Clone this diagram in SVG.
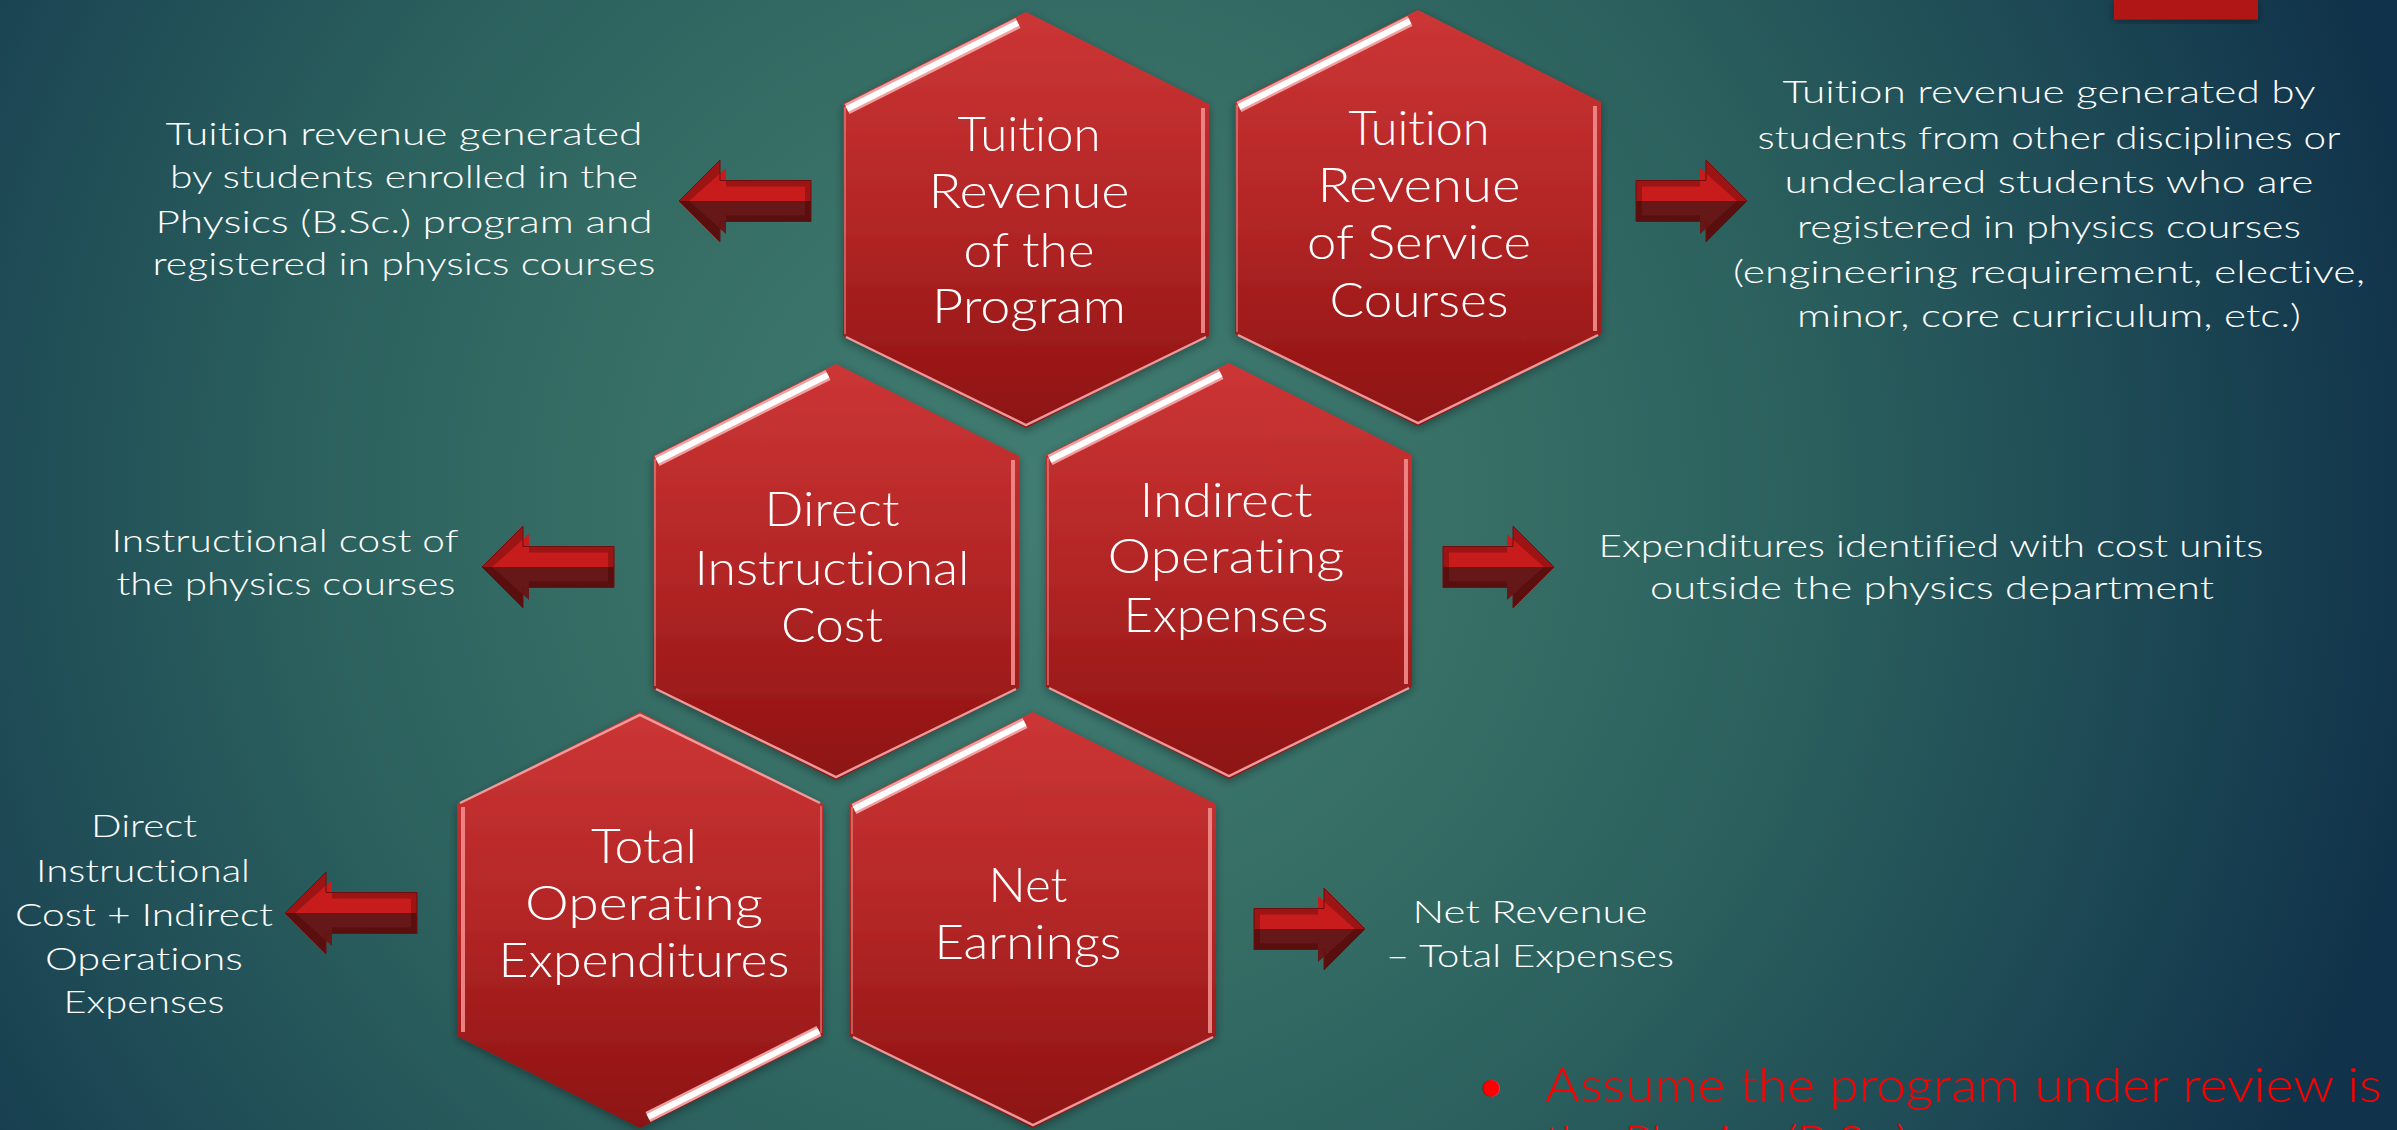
<svg xmlns="http://www.w3.org/2000/svg" xmlns:xlink="http://www.w3.org/1999/xlink" width="2397" height="1130" viewBox="0 0 2397 1130">
<defs>
<radialGradient id="bg" gradientUnits="userSpaceOnUse" cx="1050" cy="500" r="1400">
<stop offset="0" stop-color="#417d72"/>
<stop offset="0.3" stop-color="#376f66"/>
<stop offset="0.55" stop-color="#2a5f5d"/>
<stop offset="0.75" stop-color="#1f4c56"/>
<stop offset="1" stop-color="#10324a"/>
</radialGradient>
<linearGradient id="hexFill" x1="0" y1="0" x2="0" y2="1">
<stop offset="0" stop-color="#cc3535"/>
<stop offset="0.5" stop-color="#b32626"/>
<stop offset="1" stop-color="#8d1111"/>
</linearGradient>
<filter id="shadow" x="-20%" y="-20%" width="140%" height="140%">
<feDropShadow dx="0" dy="3" stdDeviation="5" flood-color="#000" flood-opacity="0.35"/>
</filter>
<polygon id="hexShape" points="0,-208 183,-116 183,116 0,208 -183,116 -183,-116"/>
<g id="bevel">
<line x1="-179" y1="-111" x2="-8" y2="-197" stroke="#f0a0a0" stroke-width="11"/>
<line x1="-179" y1="-111" x2="-8" y2="-197" stroke="#ffffff" stroke-width="6"/>
<line x1="177" y1="-112" x2="177" y2="113" stroke="#f38c8c" stroke-width="4" opacity="0.9"/>
<polyline points="-180,117 0,205 180,117" fill="none" stroke="#f4a6a6" stroke-width="2.5" opacity="0.9"/>
<line x1="-181" y1="-113" x2="-181" y2="114" stroke="#f4a6a6" stroke-width="2" opacity="0.45"/>
</g>
<g id="arrow111">
<polygon points="-111,-20.5 -41,-20.5 -41,-41 0,0 -111,0" fill="#9c1414"/>
<polygon points="-111,0 0,0 -41,41 -41,20.5 -111,20.5" fill="#5a0f0f"/>
<polygon points="-105,-14.5 -47,-14.5 -47,-33 -10,0 -105,0" fill="#c81b1b"/>
<polygon points="-105,0 -10,0 -47,33 -47,14.5 -105,14.5" fill="#661717"/>
<polygon points="-111,-20.5 -41,-20.5 -41,-41 0,0 -41,41 -41,20.5 -111,20.5" fill="none" stroke="#6e0e0e" stroke-width="1"/>
</g>
<g id="arrow132">
<polygon points="-132,-20.5 -41,-20.5 -41,-41 0,0 -132,0" fill="#9c1414"/>
<polygon points="-132,0 0,0 -41,41 -41,20.5 -132,20.5" fill="#5a0f0f"/>
<polygon points="-126,-14.5 -47,-14.5 -47,-33 -10,0 -126,0" fill="#c81b1b"/>
<polygon points="-126,0 -10,0 -47,33 -47,14.5 -126,14.5" fill="#661717"/>
<polygon points="-132,-20.5 -41,-20.5 -41,-41 0,0 -41,41 -41,20.5 -132,20.5" fill="none" stroke="#6e0e0e" stroke-width="1"/>
</g>
</defs>
<style>
text { font-variant-ligatures: none; font-feature-settings: "liga" 0, "clig" 0; }
.hex { fill: url(#hexFill); filter: url(#shadow); }
.ht { font-family: Lato, 'Open Sans', sans-serif; font-weight: 300; font-size: 47px; fill: #ffffff; text-anchor: middle; }
.side { font-family: Lato, 'Open Sans', sans-serif; font-weight: 300; font-size: 32px; fill: #ffffff; text-anchor: middle; }
.note { font-family: Lato, 'Open Sans', sans-serif; font-weight: 300; font-size: 47px; fill: #ff0000; }
.bullet { font-family: Lato, 'Open Sans', sans-serif; font-weight: 700; font-size: 38px; fill: #ff0000; text-anchor: middle; }
</style>
<rect x="0" y="0" width="2397" height="1130" fill="url(#bg)"/>
<rect x="2114" y="-2" width="144" height="21.5" fill="#b11616" filter="url(#shadow)"/>

<g id="node-tuition-program" transform="translate(1026,220)">
<use href="#hexShape" class="hex"/>
<use href="#bevel"/>
<text class="ht" x="3" y="-69" textLength="143" lengthAdjust="spacingAndGlyphs">Tuition</text>
<text class="ht" x="3" y="-12" textLength="201" lengthAdjust="spacingAndGlyphs">Revenue</text>
<text class="ht" x="3" y="47" textLength="131" lengthAdjust="spacingAndGlyphs">of the</text>
<text class="ht" x="3" y="103" textLength="194" lengthAdjust="spacingAndGlyphs">Program</text>
</g>

<g id="node-tuition-service" transform="translate(1418,218)">
<use href="#hexShape" class="hex"/>
<use href="#bevel"/>
<text class="ht" x="1" y="-73" textLength="141" lengthAdjust="spacingAndGlyphs">Tuition</text>
<text class="ht" x="1" y="-16" textLength="203" lengthAdjust="spacingAndGlyphs">Revenue</text>
<text class="ht" x="1" y="41" textLength="224" lengthAdjust="spacingAndGlyphs">of Service</text>
<text class="ht" x="1" y="99" textLength="179" lengthAdjust="spacingAndGlyphs">Courses</text>
</g>

<g id="node-direct-cost" transform="translate(836,572)">
<use href="#hexShape" class="hex"/>
<use href="#bevel"/>
<text class="ht" x="-4" y="-46" textLength="135" lengthAdjust="spacingAndGlyphs">Direct</text>
<text class="ht" x="-4" y="13" textLength="275" lengthAdjust="spacingAndGlyphs">Instructional</text>
<text class="ht" x="-4" y="70" textLength="102" lengthAdjust="spacingAndGlyphs">Cost</text>
</g>

<g id="node-indirect-expenses" transform="translate(1229,571)">
<use href="#hexShape" class="hex"/>
<use href="#bevel"/>
<text class="ht" x="-3" y="-54" textLength="173" lengthAdjust="spacingAndGlyphs">Indirect</text>
<text class="ht" x="-3" y="2" textLength="237" lengthAdjust="spacingAndGlyphs">Operating</text>
<text class="ht" x="-3" y="61" textLength="205" lengthAdjust="spacingAndGlyphs">Expenses</text>
</g>

<g id="node-total-expenditures" transform="translate(640,920)">
<use href="#hexShape" class="hex"/>
<use href="#bevel" transform="rotate(180)"/>
<text class="ht" x="4" y="-57" textLength="106" lengthAdjust="spacingAndGlyphs">Total</text>
<text class="ht" x="4" y="0" textLength="238" lengthAdjust="spacingAndGlyphs">Operating</text>
<text class="ht" x="4" y="57" textLength="291" lengthAdjust="spacingAndGlyphs">Expenditures</text>
</g>

<g id="node-net-earnings" transform="translate(1033,920)">
<use href="#hexShape" class="hex"/>
<use href="#bevel"/>
<text class="ht" x="-5" y="-18" textLength="79" lengthAdjust="spacingAndGlyphs">Net</text>
<text class="ht" x="-5" y="39" textLength="187" lengthAdjust="spacingAndGlyphs">Earnings</text>
</g>

<g id="connectors">
<use href="#arrow132" transform="translate(679,201) scale(-1,1)"/>
<use href="#arrow111" transform="translate(1747,201)"/>
<use href="#arrow132" transform="translate(482,567) scale(-1,1)"/>
<use href="#arrow111" transform="translate(1554,567)"/>
<use href="#arrow132" transform="translate(285,913) scale(-1,1)"/>
<use href="#arrow111" transform="translate(1365,929)"/>
</g>

<g id="label-program">
<text class="side" x="404" y="145" textLength="477" lengthAdjust="spacingAndGlyphs">Tuition revenue generated</text>
<text class="side" x="404" y="188" textLength="468" lengthAdjust="spacingAndGlyphs">by students enrolled in the</text>
<text class="side" x="404" y="233" textLength="497" lengthAdjust="spacingAndGlyphs">Physics (B.Sc.) program and</text>
<text class="side" x="404" y="275" textLength="503" lengthAdjust="spacingAndGlyphs">registered in physics courses</text>
</g>

<g id="label-service">
<text class="side" x="2049" y="103" textLength="533" lengthAdjust="spacingAndGlyphs">Tuition revenue generated by</text>
<text class="side" x="2049" y="149" textLength="583" lengthAdjust="spacingAndGlyphs">students from other disciplines or</text>
<text class="side" x="2049" y="193" textLength="529" lengthAdjust="spacingAndGlyphs">undeclared students who are</text>
<text class="side" x="2049" y="238" textLength="504" lengthAdjust="spacingAndGlyphs">registered in physics courses</text>
<text class="side" x="2049" y="283" textLength="632" lengthAdjust="spacingAndGlyphs">(engineering requirement, elective,</text>
<text class="side" x="2049" y="327" textLength="504" lengthAdjust="spacingAndGlyphs">minor, core curriculum, etc.)</text>
</g>

<g id="label-direct">
<text class="side" x="285" y="552" textLength="347" lengthAdjust="spacingAndGlyphs">Instructional cost of</text>
<text class="side" x="286" y="595" textLength="339" lengthAdjust="spacingAndGlyphs">the physics courses</text>
</g>

<g id="label-indirect">
<text class="side" x="1931" y="557" textLength="665" lengthAdjust="spacingAndGlyphs">Expenditures identified with cost units</text>
<text class="side" x="1932" y="599" textLength="564" lengthAdjust="spacingAndGlyphs">outside the physics department</text>
</g>

<g id="label-total">
<text class="side" x="144" y="837" textLength="106" lengthAdjust="spacingAndGlyphs">Direct</text>
<text class="side" x="143" y="882" textLength="214" lengthAdjust="spacingAndGlyphs">Instructional</text>
<text class="side" x="144" y="926" textLength="258" lengthAdjust="spacingAndGlyphs">Cost + Indirect</text>
<text class="side" x="144" y="970" textLength="198" lengthAdjust="spacingAndGlyphs">Operations</text>
<text class="side" x="144" y="1013" textLength="161" lengthAdjust="spacingAndGlyphs">Expenses</text>
</g>

<g id="label-net">
<text class="side" x="1530" y="923" textLength="235" lengthAdjust="spacingAndGlyphs">Net Revenue</text>
<text class="side" x="1530" y="967" textLength="288" lengthAdjust="spacingAndGlyphs">– Total Expenses</text>
</g>

<g id="note">
<text class="bullet" x="1491" y="1100">•</text>
<text class="note" x="1545" y="1102" textLength="837" lengthAdjust="spacingAndGlyphs">Assume the program under review is</text>
<text class="note" x="1545" y="1160">the Physics (B.Sc.)</text>
</g>
</svg>
